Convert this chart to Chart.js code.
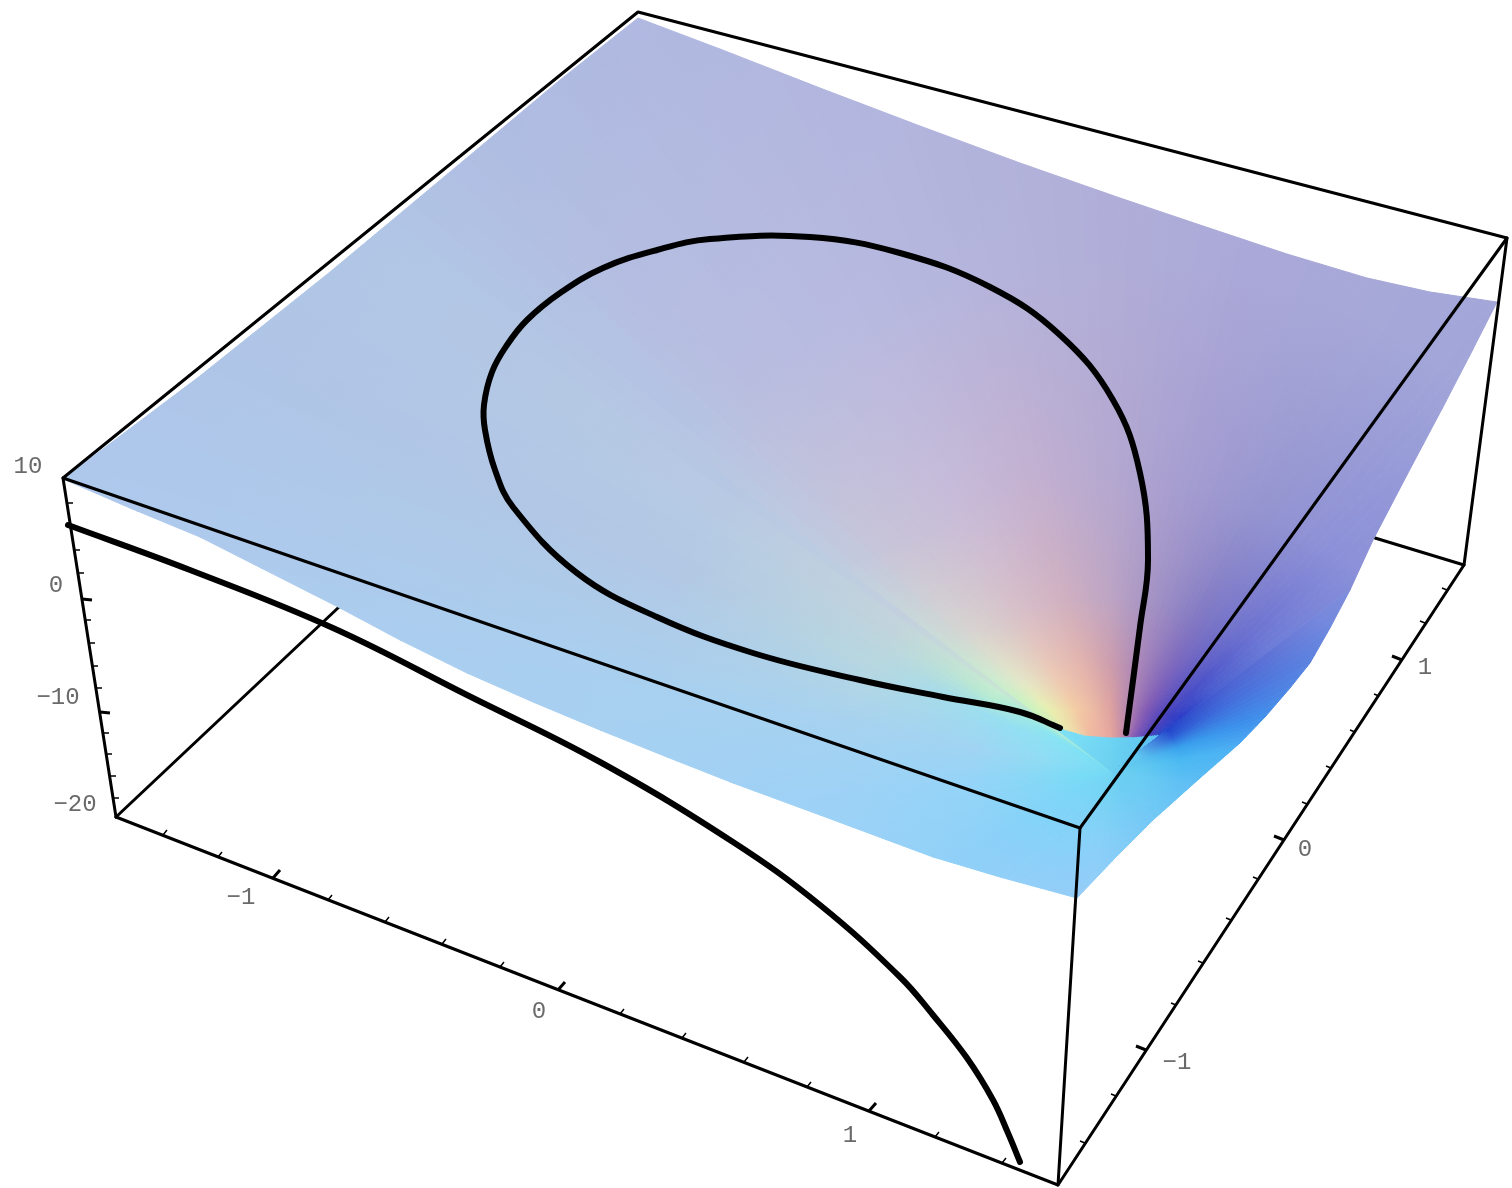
<!DOCTYPE html>
<html>
<head>
<meta charset="utf-8">
<title>Surface</title>
<style>
html, body { margin: 0; padding: 0; background: #fff; }
canvas { display: block; }
</style>
<script src="https://cdn.jsdelivr.net/npm/chart.js@4/dist/chart.umd.js"></script>
</head>
<body>
<canvas id="surfaceChart" width="1512" height="1188"></canvas>
<script>
const boxHidden = [
    [[116, 817], [339, 607]],
    [[1464, 565], [1375, 538]]
];
const boxFront = [
    [[116, 817], [1058, 1185], [1464, 565], [1507, 238]],
    [[63, 478], [116, 817]],
    [[63, 478], [638, 12], [1507, 238], [1080, 828], [63, 478]],
    [[1080, 828], [1058, 1185]]
];

const surfaceEdge = [
    [63, 479], [200, 376], [330, 272], [450, 172], [560, 80], [638, 18],
    [720, 49], [820, 88], [920, 126], [1020, 163], [1120, 198], [1200, 225], [1287, 254], [1367, 278], [1430, 292], [1497, 302],
    [1470, 355], [1443, 407], [1408, 473], [1373, 540], [1350, 590], [1330, 628], [1310, 663], [1290, 688], [1265, 717], [1240, 743], [1200, 778], [1153, 820], [1115, 858], [1077, 898],
    [1000, 877], [933, 857], [820, 815], [733, 783], [667, 757], [600, 730], [533, 702], [467, 673], [400, 640], [340, 608], [200, 537], [130, 508]
];
const fanCenter = [1112, 772];
const crease = [
    [1040, 718], [1060, 728], [1085, 735], [1112, 737], [1135, 737], [1160, 735]
];

const loopCurve = [
    [1060, 728], [1020, 712], [943, 697], [860, 680], [753, 653], [657, 617], [577, 573], [513, 507],
    [495, 470], [485, 430], [484, 405], [492, 372], [507, 345], [527, 320], [560, 293], [603, 268],
    [657, 250], [710, 239], [810, 237], [900, 253], [990, 287],
    [1060, 335], [1113, 400], [1140, 473], [1148, 560], [1140, 627], [1126, 733]
];
const floorCurve = [
    [68, 525], [190, 570], [333, 628], [467, 695], [600, 762], [733, 842], [820, 905], [900, 977],
    [933, 1015], [967, 1058], [993, 1100], [1008, 1133], [1020, 1162]
];

const zMinor = [[67, 503], [71, 527], [74, 550], [78, 573], [85, 620], [89, 643], [92, 666], [96, 688], [103, 733], [106, 754], [110, 776], [113, 798]];
const zMajor = [[82, 599], [100, 712]];
const xMinor = [[163, 835], [218, 857], [328, 900], [385, 922], [442, 944], [500, 967], [620, 1014], [682, 1038], [744, 1062], [807, 1087], [935, 1137], [1002, 1163]];
const xMajor = [[273, 878], [558, 990], [869, 1111]];
const yMinor = [[1085, 1143], [1116, 1096], [1176, 1005], [1203, 963], [1231, 920], [1258, 879], [1307, 804], [1331, 768], [1355, 732], [1379, 696], [1425, 623], [1447, 590]];
const yMajor = [[1146, 1050], [1402, 660], [1284, 840]];

const tickLabels = [
    ['10', 28, 467], ['0', 56, 586], ['\u221210', 58, 698], ['\u221220', 75, 805],
    ['\u22121', 241, 898], ['0', 539, 1012], ['1', 850, 1136],
    ['\u22121', 1177, 1063], ['0', 1305, 850], ['1', 1425, 668]
];

// surface shading by direction from the fan centre (clockwise from +x)
// and distance past the crease (or past the centre where a ray misses it)
const shadeRadii = [0, 30, 70, 140, 260, 480, 1100];
const shadeAngles = [10, 60, 100, 150, 175, 190, 205, 212, 216.5, 217, 225, 240, 255, 270, 285, 300, 315, 322, 323, 330, 340, 350];
const shadeColors = [
    ['#6cd0f0', '#68ccf2', '#60c0f4', '#64b8f4', '#78bcf6', '#90c4f6', '#98ccf8'],
    ['#6cd0f0', '#70ccf4', '#78c8f6', '#84c8f8', '#90ccf8', '#98ccf8', '#98ccf8'],
    ['#70d4f2', '#78d2f4', '#88d0f8', '#98ccf8', '#98ccf8', '#a0d0f6', '#a0d0f6'],
    ['#74d8f4', '#78d6f6', '#80d4f8', '#8cd0f8', '#98d0f8', '#a4d0f4', '#a8ccf0'],
    ['#74daf4', '#78dcf6', '#84d8f6', '#94d4f8', '#9cd2f6', '#a2d0f4', '#aecaee'],
    ['#74daf4', '#80dcf6', '#90dcf4', '#a0d4f2', '#a6d2f0', '#a8d0f0', '#aecaee'],
    ['#74daf4', '#80e0f4', '#8ce0f4', '#9adef0', '#b8d8e0', '#b2c8e4', '#aec4e8'],
    ['#74daf4', '#7ce0f4', '#88e4f4', '#b8ecd0', '#c0d4dc', '#b6cae4', '#aec4e6'],
    ['#74daf4', '#7ce0f4', '#a8ecd8', '#c8ecd0', '#c4d4dc', '#b8c8e2', '#aec4e6'],
    ['#c8f4b8', '#c4f4c4', '#c8ecd0', '#c8dcd8', '#c0cce0', '#b4c6e4', '#aec4e6'],
    ['#f0e0a8', '#e8f0b0', '#e4e8c8', '#d8d4d0', '#c8c4d8', '#b8bee0', '#a8bce4'],
    ['#f0b8a0', '#f4cca4', '#ecc8b4', '#d8c0c8', '#c8bcd8', '#b8bae0', '#aab6e0'],
    ['#ecaea0', '#eab8a4', '#e4b4ac', '#d0b0c0', '#c4b0d0', '#b4b4dc', '#acb4de'],
    ['#e4a49c', '#dca0a0', '#cc9cac', '#bca4c4', '#b4a8d0', '#b0aed8', '#acb0dc'],
    ['#cc8ca4', '#b084b0', '#a884b8', '#a090c4', '#a49cd0', '#aaa8d8', '#aab0dc'],
    ['#8c60b4', '#8058b4', '#7c64bc', '#8078c4', '#9494d0', '#a6a8d8', '#a8acda'],
    ['#5040b8', '#4040c0', '#4a50c8', '#6a70d0', '#8c90d8', '#a0a4d8', '#a4a8da'],
    ['#2848c8', '#2a3cc8', '#4a60d0', '#6c7cd8', '#8a90d8', '#a0a4d8', '#a4a8da'],
    ['#6cd0f0', '#60c8f0', '#2040c8', '#4a60d0', '#7888dc', '#a0a4d8', '#a4a8da'],
    ['#6cd0f0', '#60c8f0', '#2a58d4', '#4470dc', '#6688e0', '#98a0da', '#a4a8da'],
    ['#6cd0f0', '#5cc4f0', '#38a0ec', '#3c90ec', '#5c90e8', '#8898dc', '#a4a8da'],
    ['#6cd0f0', '#60c8f0', '#48b8f2', '#50b0f4', '#60aaf0', '#80b0ee', '#90b4ee']
];
// colour just under the crease
const belowAngles = [217, 225, 270, 310, 322];
const belowColors = ['#84e4f4', '#78dcf6', '#6cd4f2', '#60c8f0', '#58bef0'];

const FAN_STEP = 1.5;
const OUTER = 1400;

function toPoints(list) {
    return list.map(p => ({ x: p[0], y: p[1] }));
}

function hexToRgb(hex) {
    const n = parseInt(hex.slice(1), 16);
    return [n >> 16, (n >> 8) & 255, n & 255];
}

function mixColor(c0, c1, t) {
    const from = hexToRgb(c0);
    const to = hexToRgb(c1);
    const rgb = from.map((v, m) => Math.round(v + (to[m] - v) * t));
    return `rgb(${rgb[0]},${rgb[1]},${rgb[2]})`;
}

function angleOf(p) {
    const a = Math.atan2(p[1] - fanCenter[1], p[0] - fanCenter[0]) * 180 / Math.PI;
    return a < 0 ? a + 360 : a;
}

// distance from the fan centre to a polyline along a ray, null if it misses
function rayDistance(deg, list, closed) {
    const dx = Math.cos(deg * Math.PI / 180);
    const dy = Math.sin(deg * Math.PI / 180);
    let best = null;
    const count = closed ? list.length : list.length - 1;
    for (let i = 0; i < count; i++) {
        const p = list[i];
        const q = list[(i + 1) % list.length];
        const ex = q[0] - p[0], ey = q[1] - p[1];
        const det = dx * ey - dy * ex;
        if (Math.abs(det) < 1e-9) continue;
        const fx = p[0] - fanCenter[0], fy = p[1] - fanCenter[1];
        const t = (fx * ey - fy * ex) / det;
        const u = (fx * dy - fy * dx) / det;
        if (t > 0 && u >= 0 && u <= 1 && (best === null || t > best)) best = t;
    }
    return best;
}

function rimHit(deg) {
    const r = rayDistance(deg, surfaceEdge, true);
    return [fanCenter[0] + Math.cos(deg * Math.PI / 180) * r, fanCenter[1] + Math.sin(deg * Math.PI / 180) * r];
}

function shadeRow(deg) {
    const n = shadeAngles.length;
    let i = n - 1;
    for (let k = 0; k < n; k++) if (shadeAngles[k] <= deg) i = k;
    const j = (i + 1) % n;
    const a0 = shadeAngles[i];
    const a1 = shadeAngles[j] + (j === 0 ? 360 : 0);
    const d = deg < a0 ? deg + 360 : deg;
    const t = (d - a0) / (a1 - a0);
    return shadeColors[i].map((c, k) => mixColor(c, shadeColors[j][k], t));
}

function belowColor(deg) {
    let i = 0;
    while (i < belowAngles.length - 2 && belowAngles[i + 1] < deg) i++;
    const t = Math.min(1, Math.max(0, (deg - belowAngles[i]) / (belowAngles[i + 1] - belowAngles[i])));
    return mixColor(belowColors[i], belowColors[i + 1], t);
}

function fanGradient(chart, deg) {
    const px = chart.scales.x.getPixelForValue(fanCenter[0]);
    const py = chart.scales.y.getPixelForValue(fanCenter[1]);
    // scales have no size yet on the first option pass
    if (!Number.isFinite(px) || !Number.isFinite(py)) return '#aec4e8';
    const g = chart.ctx.createRadialGradient(px, py, 0, px, py, OUTER);
    const rc = rayDistance(deg, crease, false) || 0;
    if (rc > 0) {
        const under = belowColor(deg);
        g.addColorStop(0, '#6cd0f0');
        g.addColorStop((rc - 1) / OUTER, under);
    }
    shadeRow(deg).forEach((c, k) => g.addColorStop((rc + shadeRadii[k]) / OUTER, c));
    return g;
}

function fanDatasets() {
    const rim = surfaceEdge.slice();
    for (let a = 0; a < 360; a += FAN_STEP) rim.push(rimHit(a));
    rim.sort((p, q) => angleOf(p) - angleOf(q));
    return rim.map((p, i) => {
        const q = rim[(i + 1) % rim.length];
        let a0 = angleOf(p), a1 = angleOf(q);
        if (a1 < a0) a1 += 360;
        const mid = ((a0 + a1) / 2) % 360;
        const paint = ctx => fanGradient(ctx.chart, mid);
        return {
            data: toPoints([fanCenter, p, q, fanCenter]),
            fill: 'shape',
            backgroundColor: paint,
            borderColor: paint,
            borderWidth: 1,
            pointRadius: 0,
            tension: 0
        };
    });
}

function lineDataset(list, width, tension) {
    return {
        data: toPoints(list),
        borderColor: '#000',
        borderWidth: width,
        borderCapStyle: 'round',
        borderJoinStyle: 'round',
        pointRadius: 0,
        fill: false,
        tension: tension || 0
    };
}

function tickDataset(list, dx, dy, width) {
    const pts = [];
    list.forEach(p => {
        pts.push({ x: p[0], y: p[1] }, { x: p[0] + dx, y: p[1] + dy }, { x: null, y: null });
    });
    const ds = lineDataset([], width);
    ds.data = pts;
    ds.borderCapStyle = 'butt';
    ds.spanGaps = false;
    return ds;
}

// paint order is the array order
const datasets = [
    ...boxHidden.map(e => lineDataset(e, 3)),
    ...fanDatasets(),
    lineDataset(loopCurve, 6, 0.4),
    lineDataset(floorCurve, 6, 0.4),
    ...boxFront.map(e => lineDataset(e, 3)),
    tickDataset(zMinor, 6, 0, 1.5),
    tickDataset(zMajor, 10, 1, 3),
    tickDataset(xMinor, 4, -5, 1.5),
    tickDataset(xMajor, 7, -8, 3),
    tickDataset(yMinor, -5, -2, 1.5),
    tickDataset(yMajor, -10, -4, 3)
];
datasets.forEach((d, i) => { d.order = -i; });

const labelPlugin = {
    id: 'tickLabels',
    afterDatasetsDraw(chart) {
        const { ctx, scales } = chart;
        ctx.save();
        ctx.font = '24px "Liberation Mono"';
        ctx.fillStyle = '#6a6a6a';
        ctx.textAlign = 'center';
        ctx.textBaseline = 'middle';
        tickLabels.forEach(t => {
            ctx.fillText(t[0], scales.x.getPixelForValue(t[1]), scales.y.getPixelForValue(t[2]));
        });
        ctx.restore();
    }
};

new Chart(document.getElementById('surfaceChart'), {
    type: 'line',
    data: { datasets: datasets },
    options: {
        responsive: false,
        animation: false,
        layout: { padding: 0 },
        plugins: { legend: { display: false }, tooltip: { enabled: false } },
        elements: { line: { capBezierPoints: false } },
        scales: {
            x: { type: 'linear', min: 0, max: 1512, display: false },
            y: { type: 'linear', min: 0, max: 1188, reverse: true, display: false }
        }
    },
    plugins: [labelPlugin]
});
</script>
</body>
</html>
